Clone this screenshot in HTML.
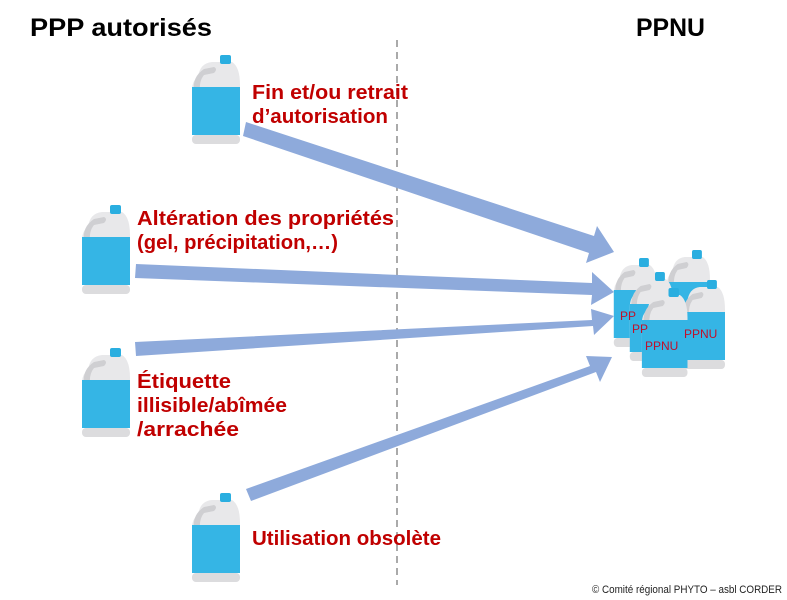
<!DOCTYPE html>
<html><head><meta charset="utf-8"><style>
body{margin:0;background:#fff;}
svg{display:block}
.t{font-family:"Liberation Sans",sans-serif;font-weight:bold;}
.r{fill:#c00000;font-size:20px;font-family:"Liberation Sans",sans-serif;font-weight:bold;}
</style></head><body>
<svg width="787" height="600" viewBox="0 0 787 600" xmlns="http://www.w3.org/2000/svg">
<defs>
<g id="b">
<path d="M8 22 Q10 8 22 7 L42 7 Q50 12 50 30 L50 80 L2 80 L2 35 Q2 26 8 22Z" fill="#e8e8ea"/>
<path d="M4 36 Q2 22 14 14 L24 12 Q28 14 24 18 L14 20 Q9 26 10 36Z" fill="#cfcfd2"/>
<rect x="30" y="0" width="11" height="9" rx="2" fill="#2aaee0"/>
<path d="M2 32 L50 32 L50 80 L2 80Z" fill="#35b5e5"/>
<rect x="2" y="80" width="48" height="9" rx="4" fill="#dcdcde"/>
</g>
</defs>
<text x="30" y="36" class="t" font-size="25" textLength="182" lengthAdjust="spacingAndGlyphs">PPP autorisés</text>
<text x="636" y="36" class="t" font-size="25" textLength="69" lengthAdjust="spacingAndGlyphs">PPNU</text>
<line x1="397" y1="40" x2="397" y2="585" stroke="#aaa" stroke-width="2" stroke-dasharray="7,5"/>
<g fill="#8eaadb">
<polygon points="246,122 594,236 597,226 614,252 586,263 589,253 243,136"/>
<polygon points="136,264 592,283 592,272 614,292 591,305 592,295 135,278"/>
<polygon points="135,342 592,320 591,309 614,316 594,335 593,326 136,356"/>
<polygon points="246,489 590,366 586,356 612,357 600,382 596,372 251,501"/>
</g>
<use href="#b" x="190" y="55"/>
<use href="#b" x="80" y="205"/>
<use href="#b" x="80" y="348"/>
<use href="#b" x="190" y="493"/>
<g transform="translate(612,258) scale(0.9,1)"><use href="#b" x="0" y="0"/></g>
<g transform="translate(665,250) scale(0.9,1)"><use href="#b" x="0" y="0"/></g>
<g transform="translate(628,272) scale(0.9,1)"><use href="#b" x="0" y="0"/></g>
<g transform="translate(680,280) scale(0.9,1)"><use href="#b" x="0" y="0"/></g>
<g transform="translate(640,288) scale(0.95,1)"><use href="#b" x="0" y="0"/></g>
<g font-family="Liberation Sans,sans-serif" font-size="12" fill="#c0102a">
<text x="620" y="320">PP</text><text x="632" y="333">PP</text>
<text x="645" y="350">PPNU</text><text x="684" y="338">PPNU</text></g>
<g lengthAdjust="spacingAndGlyphs">
<text x="252" y="99" class="r" textLength="156" lengthAdjust="spacingAndGlyphs">Fin et/ou retrait</text>
<text x="252" y="123" class="r" textLength="136" lengthAdjust="spacingAndGlyphs">d’autorisation</text>
<text x="137" y="225" class="r" textLength="257" lengthAdjust="spacingAndGlyphs">Altération des propriétés</text>
<text x="137" y="249" class="r" textLength="201" lengthAdjust="spacingAndGlyphs">(gel, précipitation,…)</text>
<text x="137" y="388" class="r" textLength="94" lengthAdjust="spacingAndGlyphs">Étiquette</text>
<text x="137" y="412" class="r" textLength="150" lengthAdjust="spacingAndGlyphs">illisible/abîmée</text>
<text x="137" y="436" class="r" textLength="102" lengthAdjust="spacingAndGlyphs">/arrachée</text>
<text x="252" y="545" class="r" textLength="189" lengthAdjust="spacingAndGlyphs">Utilisation obsolète</text>
</g>
<text x="592" y="593" font-family="Liberation Sans,sans-serif" font-size="11" fill="#222" textLength="190" lengthAdjust="spacingAndGlyphs">© Comité régional PHYTO – asbl CORDER</text>
</svg>
</body></html>
